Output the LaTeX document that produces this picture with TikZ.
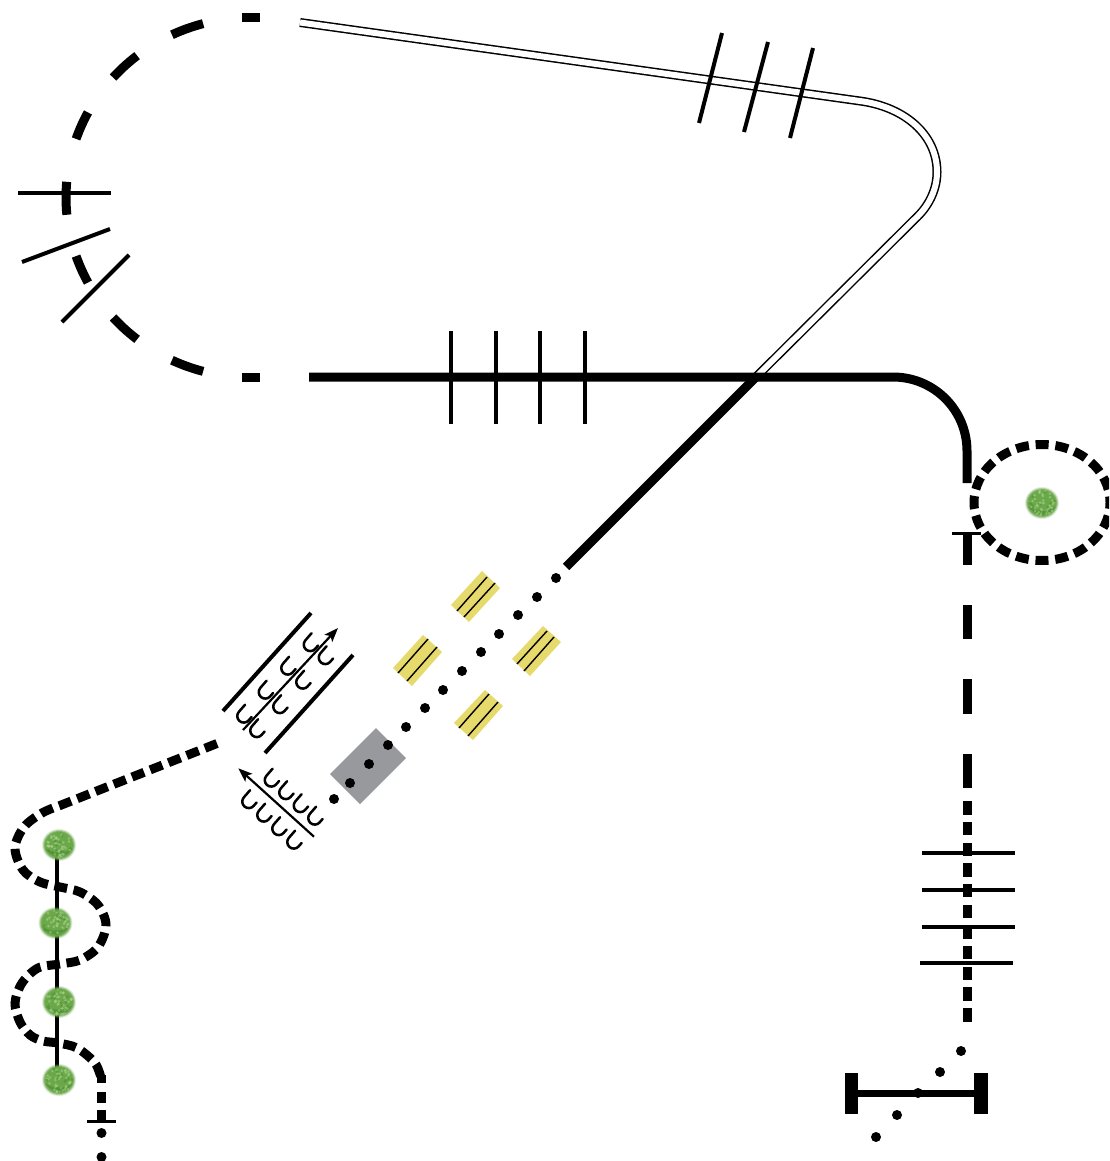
\documentclass[tikz,border=0pt]{standalone}
\definecolor{grayblock}{HTML}{98999C}
\definecolor{yellowblock}{HTML}{E6DA6C}
\definecolor{bushmid}{HTML}{6BA84A}
\definecolor{bushlight}{HTML}{B4DC98}
\definecolor{bushdark}{HTML}{4A8A30}
\usetikzlibrary{arrows.meta}
\tikzset{
  heavy/.style={line width=9pt,line cap=butt},
  heavyd/.style={line width=9pt,line cap=butt},
  tick/.style={line width=4pt},
  thin tick/.style={line width=3pt},
  uform/.style={line width=2.5pt,line cap=round},
  slabline/.style={line width=1.4pt},
  flow/.style={line width=2.2pt,-{Stealth[length=14pt,width=10.5pt,inset=3pt]}},
  ballast/.style={circle,fill=black,inner sep=0pt,minimum size=10pt},
}
\newcommand\arcdash[2]{\draw[heavy] plot[domain=#1:#2,samples=8] ({251-185*sin(\x)},{197.5-180*cos(\x)});}
\newcommand\uform[3]{\draw[uform,shift={(#1,#2)},rotate=#3] (-6.5,-16) -- (-6.5,-6.5) .. controls (-6.5,-2.9) and (-3.6,0) .. (0,0) .. controls (3.6,0) and (6.5,-2.9) .. (6.5,-6.5) -- (6.5,-11);}
\newcommand\slab[8]{\fill[yellowblock] (#1,#2) -- (#3,#4) -- (#5,#6) -- (#7,#8) -- cycle;}
\newcommand\bush[3]{%
  \begin{scope}[shift={(#1,#2)}]
    \pgfmathsetseed{#3}
    \fill[bushmid,opacity=.2] (0,0) ellipse (17 and 16);
    \fill[bushmid,opacity=.4] (0,0) ellipse (16 and 15);
    \fill[bushmid,opacity=.7] (0,0) ellipse (15 and 14);
    \fill[bushmid] (0,0) ellipse (14 and 13);
    \fill[bushdark,opacity=.6] (-14,3) .. controls (-8,14) and (8,14) .. (14,3) .. controls (7,9) and (-7,9) .. cycle;
    \foreach \k in {1,...,40}{
      \pgfmathsetmacro\ra{sqrt(rnd)*13}
      \pgfmathsetmacro\an{rnd*360}
      \fill[bushlight,opacity=.45] (\an:\ra) circle (1.5);
    }
    \foreach \k in {1,...,14}{
      \pgfmathsetmacro\ra{sqrt(rnd)*13}
      \pgfmathsetmacro\an{rnd*360}
      \fill[bushdark,opacity=.5] (\an:\ra) circle (1.4);
    }
  \end{scope}}
\begin{document}
\begin{tikzpicture}[x=1pt,y=-1pt]
\useasboundingbox (0,0) rectangle (1109,1161);
\clip (0,0) rectangle (1109,1161);
\fill[white] (0,0) rectangle (1109,1161);

% double track
\draw[line width=1.5pt,double=white,double distance=6pt]
  (300,22.5) -- (860,101) .. controls (905,107) and (937,135) .. (937,172)
  .. controls (937,188) and (930,204) .. (918,216) -- (757,376);
\draw[tick] (722,33) -- (699,123);
\draw[tick] (768,42) -- (744,132);
\draw[tick] (813,48) -- (790,138);

% left dashed arc
\draw[heavy] (242,18) -- (260,18);
\arcdash{15}{25.3}
\arcdash{38}{48.2}
\arcdash{61.8}{71}
\arcdash{85}{95.5}
\arcdash{109}{118.2}
\arcdash{131.8}{142}
\arcdash{154.7}{165}
\draw[heavy] (242,377) -- (260,377);
\draw[tick] (18,193) -- (111,193);
\draw[tick] (22,262) -- (110,229);
\draw[tick] (62,322) -- (129,255);

% main line
\draw[heavy] (309,377) -- (893,377) .. controls (934,377) and (967,410) .. (967,451) -- (967,483);
\foreach \tx in {451,496,540,585}{\draw[tick] (\tx,331) -- (\tx,424);}
\draw[heavyd] (757,376) -- (566,567);

% blocks
\fill[grayblock] (376,728) -- (406,758) -- (360,804) -- (330,774) -- cycle;
\slab{482}{571}{500}{588}{469}{622}{451}{605}
\draw[slabline] (487,577) -- (457,611); \draw[slabline] (495,583) -- (464,617);
\slab{423}{635}{442}{652}{412}{686}{393}{668}
\draw[slabline] (428,639) -- (398,673); \draw[slabline] (437,647) -- (407,681);
\slab{543}{626}{561}{642}{530}{676}{512}{659}
\draw[slabline] (547,631) -- (517,664); \draw[slabline] (554,637) -- (524,671);
\slab{485}{690}{503}{706}{473}{740}{454}{723}
\draw[slabline] (489,694) -- (459,728); \draw[slabline] (498,702) -- (468,736);

% ballast dots
\foreach \i/\dx/\dy in {1/556/578,2/537/597,3/518/615,4/499/634,5/481/652,6/462/671,7/443/690,8/425/708,9/406/727,10/388/745,11/369/764,12/350/783,13/334/799}{
  \node[ballast] (d\i) at (\dx,\dy) {};}

% double parallel lines and U marks
\draw[tick] (311,613) -- (223,711);
\draw[tick] (353,655) -- (265,753);
\draw[flow] (243,730) -- (338,628);
\foreach \ux/\uy in {306/649.5,283.5/673,261/697,239.5/721,321/662.5,298.5/687,275.5/711.5,252.5/735.5}{\uform{\ux}{\uy}{-41}}
\draw[flow] (314,836.7) -- (238.3,768.3);
\foreach \ux/\uy in {267/785,281.5/797.5,296/810.5,310.5/823,244.5/806.5,259.5/820,274.5/833.5,289.5/847}{\uform{\ux}{\uy}{-41}}

% left wavy line
\draw[line width=4pt] (57,845) -- (57,1080);
\draw[heavyd,dash pattern=on 13pt off 6.6pt]
  (217,743.5) -- plot[smooth,tension=.55] coordinates {
  (60,805.5) (42,813) (24,827) (15,848) (23,870) (40,882) (60,887) (80,892) (98,905) (106,925)
  (98,947) (80,960) (60,964) (38,968) (22,983) (15,1003) (20,1022) (30,1035) (43,1041) (58,1043) (77,1048) (95,1063) (101,1078)};
\draw[heavyd] (101,1075) -- (101,1083);
\draw[heavyd] (101,1092) -- (101,1103);
\draw[heavyd] (101,1110) -- (101,1121);
\draw[thin tick] (87,1121) -- (116,1121);
\node[ballast] (e1) at (101.5,1133) {};
\node[ballast] (e2) at (101.5,1157) {};
\bush{59}{845}{11}
\bush{55.5}{923}{12}
\bush{59}{1002}{13}
\bush{59}{1080}{14}

% right circle
\draw[heavyd,dash pattern=on 13pt off 6.83pt,dash phase=6.5pt] (1042,502.5) ellipse (68 and 58);
\bush{1042}{503}{15}

% right vertical
\draw[thin tick] (952,533) -- (981,533);
\foreach \ya/\yb in {533/565,605/639,679/714,754/788,801/815,822/835,843/856,863/877,884/897,905/918,925/939,946/959,967/980,987/1001,1008/1022}{
  \draw[heavy] (967,\ya) -- (967,\yb);}
\draw[tick] (922,853) -- (1015,853);
\draw[tick] (922,890) -- (1015,890);
\draw[tick] (922,927) -- (1015,927);
\draw[tick] (920,963) -- (1013,963);

% bottom buffer
\draw[line width=6.5pt] (858,1093.5) -- (974,1093.5);
\fill (845,1073) rectangle (858,1114);
\fill (974,1073) rectangle (988,1114);
\foreach \i/\dx/\dy in {1/961/1051,2/940/1072,3/918/1093,4/897/1115,5/876/1137}{
  \node[ballast] (f\i) at (\dx,\dy) {};}
\end{tikzpicture}
\end{document}
